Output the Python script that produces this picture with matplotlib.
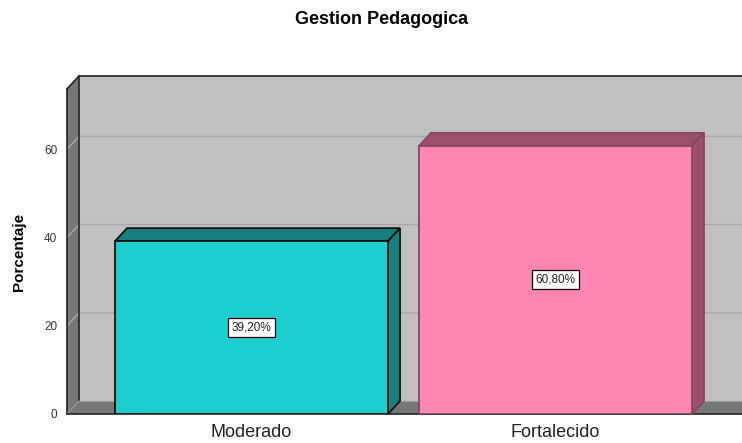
import matplotlib; matplotlib.use("Agg")
import matplotlib.pyplot as plt
from matplotlib.patches import Polygon

plt.rcParams['font.family'] = ['Liberation Sans', 'DejaVu Sans']

# data
categories = ["Moderado", "Fortalecido"]
percentages = [39.2, 60.8]
value_labels = ["39,20%", "60,80%"]
yticks = [0, 20, 40, 60]

# look
FRONT = ["#1DCECE", "#FF85B5"]
SIDE = ["#168080", "#9C5070"]
EDGE = ["#111111", "#8A4563"]
WALL = "#C0C0C0"
DARK = "#777777"
GRID = "#A9A9A9"

XMIN, XMAX, YMAX = -0.607, 1.6135, 73.7
DX, DY = 0.0395, 2.95      # 3d depth in data units
W = 0.898

fig = plt.figure(figsize=(7.42, 4.43), dpi=100)
ax = fig.add_axes([67/742, 29/443, 675/742, 325/443])
ax.set_xlim(XMIN, XMAX); ax.set_ylim(0, YMAX)
ax.patch.set_visible(False)
for s in ax.spines.values():
    s.set_visible(False)

def poly(pts, fc, ec="none", lw=0, z=1):
    p = Polygon(pts, closed=True, facecolor=fc, edgecolor=ec, lw=lw, zorder=z, clip_on=False)
    ax.add_patch(p)

# back wall, left wall, floor
poly([(XMIN+DX, DY), (XMAX+DX, DY), (XMAX+DX, YMAX+DY), (XMIN+DX, YMAX+DY)], WALL, z=0)
poly([(XMIN, 0), (XMIN+DX, DY), (XMIN+DX, YMAX+DY), (XMIN, YMAX)], DARK, z=0.5)
poly([(XMIN, 0), (XMIN+DX, DY), (XMAX+DX, DY), (XMAX, 0)], DARK, z=0.5)

for t in yticks[1:]:
    ax.plot([XMIN, XMIN+DX, XMAX+DX], [t, t+DY, t+DY], color=GRID, lw=1, zorder=0.8, clip_on=False)

# frame lines
ax.plot([XMIN, XMIN], [0, YMAX], color="#222222", lw=1.2, zorder=0.9, clip_on=False)
ax.plot([XMIN+DX, XMIN+DX], [DY, YMAX+DY], color="#222222", lw=1.2, zorder=0.9, clip_on=False)
ax.plot([XMIN, XMIN+DX, XMAX+DX], [YMAX, YMAX+DY, YMAX+DY], color="#222222", lw=1.2, zorder=0.9, clip_on=False)
ax.plot([XMIN, XMIN+DX], [0, DY], color="#999999", lw=0.8, zorder=0.9, clip_on=False)
ax.plot([XMIN, XMAX], [0, 0], color="#222222", lw=1.2, zorder=0.9, clip_on=False)
ax.plot([XMIN+DX, XMAX+DX], [DY, DY], color="#999999", lw=0.8, zorder=0.9, clip_on=False)

xs = list(range(len(categories)))
ax.bar(xs, percentages, width=W, color=FRONT, edgecolor=EDGE, lw=1.3, zorder=3)
for i, h in enumerate(percentages):
    x0, x1 = i - W/2, i + W/2
    poly([(x0, h), (x0+DX, h+DY), (x1+DX, h+DY), (x1, h)], SIDE[i], EDGE[i], 1.3, 2)
    poly([(x1, 0), (x1+DX, DY), (x1+DX, h+DY), (x1, h)], SIDE[i], EDGE[i], 1.3, 2)
    ax.text(i, h/2, value_labels[i], ha="center", va="center", fontsize=8.5, zorder=5,
            color="#222222",
            bbox=dict(boxstyle="square,pad=0.3", fc="white", ec="black", lw=0.9))

ax.set_xticks(xs, categories, fontsize=13, color="#222222")
ax.set_yticks(yticks, [str(t) for t in yticks], fontsize=8.5, color="#333333")
ax.tick_params(axis="x", length=0, pad=7)
ax.tick_params(axis="y", length=0, pad=7)
ax.set_ylabel("Porcentaje", fontsize=11, fontweight="bold", labelpad=13)
fig.text(382/742, 1 - 19/443, "Gestion Pedagogica", ha="center", va="center",
         fontsize=13, fontweight="bold")

fig.savefig("out.png", dpi=100)
